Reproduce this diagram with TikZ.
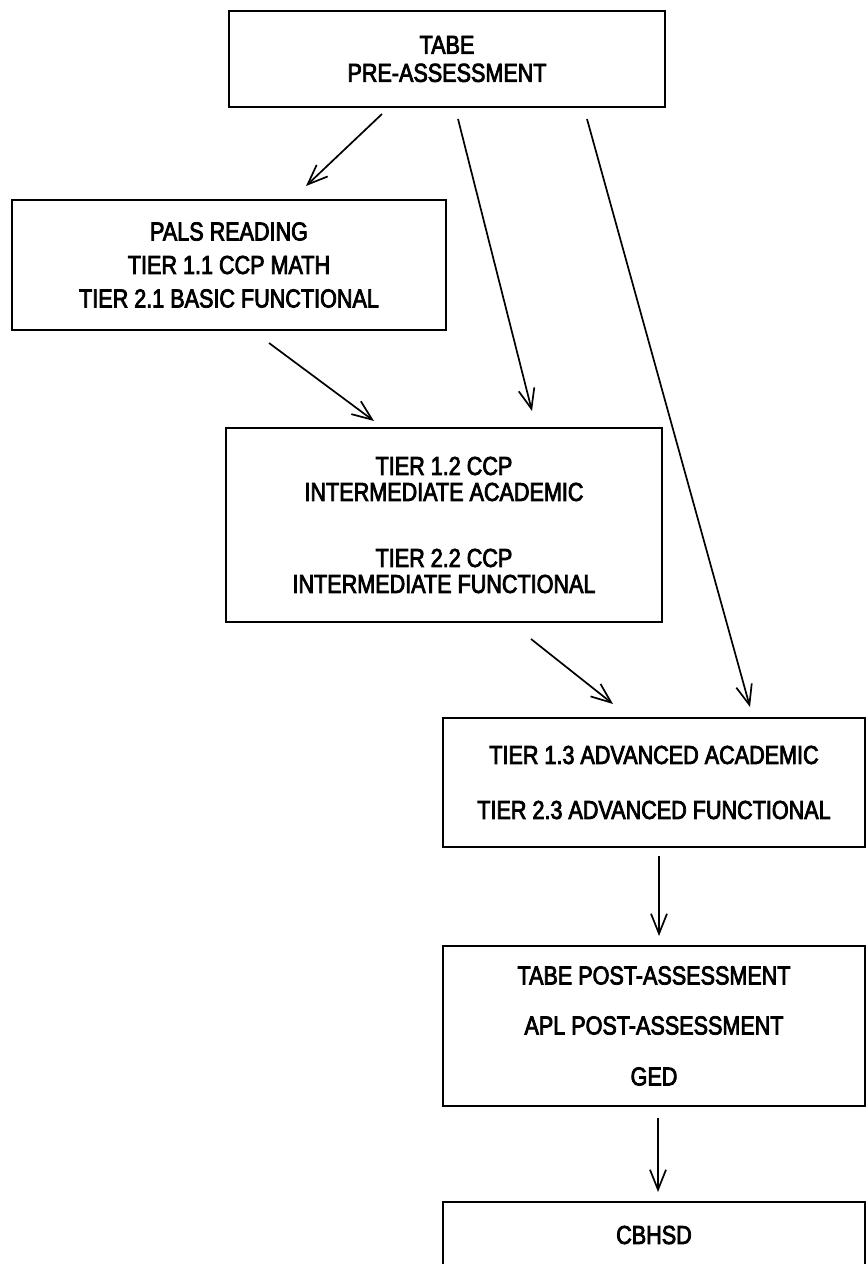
\documentclass[tikz,border=0pt]{standalone}
\usepackage{fontspec}
\setmainfont{Liberation Sans}[FakeStretch=0.83,FakeBold=3]
\usepackage{tikz}
\usetikzlibrary{arrows.meta}

\begin{document}
\begin{tikzpicture}[x=1pt,y=-1pt,
        box/.style={draw, line width=2pt, inner sep=0pt, align=center,
            font=\fontsize{26}{26}\selectfont},
        arr/.style={line width=1.7pt,
            -{Straight Barb[length=20pt,width=16pt,line width=1.7pt]}}]
        \useasboundingbox (0,0) rectangle (866,1264);
        % boxes
        \node[box, minimum width=436pt, minimum height=96pt] (pre) at (447,59)
            {TABE\\[2pt] PRE-ASSESSMENT};
        \node[box, minimum width=434pt, minimum height=130pt] (pals) at (229,265)
            {PALS READING\\[7.5pt] TIER 1.1 CCP MATH\\[7.5pt] TIER 2.1 BASIC FUNCTIONAL};
        \node[box, minimum width=436pt, minimum height=194pt] (inter) at (444,525)
            {TIER 1.2 CCP\\ INTERMEDIATE ACADEMIC\\[40pt] TIER 2.2 CCP\\ INTERMEDIATE FUNCTIONAL};
        \node[box, minimum width=422pt, minimum height=129pt] (adv) at (654,782.5)
            {TIER 1.3 ADVANCED ACADEMIC\\[29pt] TIER 2.3 ADVANCED FUNCTIONAL};
        \node[box, minimum width=422pt, minimum height=160pt] (post) at (654,1026)
            {TABE POST-ASSESSMENT\\[24pt] APL POST-ASSESSMENT\\[25pt] GED};
        \node[box, minimum width=422pt, minimum height=66pt] (cbhsd) at (654,1235)
            {CBHSD};
        % arrows
        \draw[arr] ([xshift=-65pt,yshift=-6pt]pre.south) -- ([xshift=77pt,yshift=13pt]pals.north);
        \draw[arr] ([xshift=11pt,yshift=-11pt]pre.south) -- ([xshift=88pt,yshift=16pt]inter.north);
        \draw[arr] ([xshift=140pt,yshift=-11pt]pre.south) -- ([xshift=96pt,yshift=10pt]adv.north);
        \draw[arr] ([xshift=40pt,yshift=-12pt]pals.south) -- ([xshift=-70pt,yshift=6pt]inter.north);
        \draw[arr] ([xshift=87pt,yshift=-16pt]inter.south) -- ([xshift=-41pt,yshift=13pt]adv.north);
        \draw[arr] ([xshift=5pt,yshift=-8pt]adv.south) -- ([xshift=5pt,yshift=9pt]post.north);
        \draw[arr] ([xshift=4pt,yshift=-11pt]post.south) -- ([xshift=4pt,yshift=9pt]cbhsd.north);
\end{tikzpicture}
\end{document}
